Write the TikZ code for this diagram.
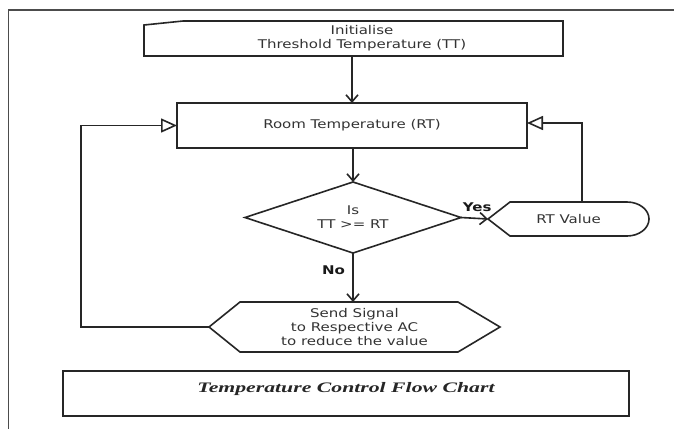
\documentclass[tikz,border=0pt]{standalone}
\usepackage{fontspec}
\newfontfamily\wsans[FakeStretch=1.25]{DejaVu Sans}
\newfontfamily\wserif[FakeStretch=1.5]{Liberation Serif}
\usetikzlibrary{arrows.meta,shapes.geometric}
\begin{document}
\begin{tikzpicture}[x=1pt,y=-1pt,
  every node/.style={inner sep=0pt, outer sep=0pt},
  lbl/.style={font=\wsans\fontsize{12}{14}\selectfont, text=black!80, align=center},
  blbl/.style={font=\wsans\bfseries\fontsize{12}{14}\selectfont, text=black!90},
  shp/.style={draw=black!85, line width=1.6pt},
  flow/.style={draw=black!85, line width=1.6pt, -{Straight Barb[length=7pt,width=12pt]}},
  back/.style={draw=black!85, line width=1.6pt, -{Triangle[open,length=16pt,width=14pt,fill=white]}}]
\useasboundingbox[fill=white] (0,0) rectangle (674,429);
% frame
\draw[black!70, line width=1.2pt] (674,10) -- (8.5,10) -- (8.5,429);
% initialise (manual input)
\node[minimum width=419pt, minimum height=35pt] (init) at (353.5,38.5) {};
\draw[shp] (144,25) -- (183,21) -- (563,21) -- (563,56) -- (144,56) -- cycle;
\node[lbl] (initt) at (362,38) {Initialise\\Threshold Temperature (TT)};
% room temperature
\node[shp, lbl, minimum width=350pt, minimum height=45pt] (room) at (352,125.5) {Room Temperature (RT)};
% decision
\node[diamond, aspect=3, shp, lbl, minimum width=216pt, minimum height=71pt] (dec) at (353,217.5) {Is\\TT >= RT};
% RT value (display)
\node[lbl, minimum width=161pt, minimum height=34pt] (rtv) at (568.5,219) {RT Value};
\draw[shp] (488,219) -- (510,202) -- (627,202) arc[start angle=90,end angle=-90,x radius=22pt,y radius=17pt] -- (510,236) -- cycle;
% send signal (hexagon)
\node[lbl, minimum width=291pt, minimum height=50pt] (send) at (354.5,327) {Send Signal\\to Respective AC\\to reduce the value};
\draw[shp] (209,327) -- (240,302) -- (458,302) -- (500,327) -- (458,352) -- (240,352) -- cycle;
% caption
\node[shp, minimum width=566pt, minimum height=45pt] (capbox) at (346,393.5) {};
\node[font=\wserif\bfseries\itshape\fontsize{14.5}{17}\selectfont, text=black!85] (captxt) at (346,389) {Temperature Control Flow Chart};
% connectors
\draw[flow] (init.south -| room.north) -- (room.north);
\draw[flow] (room.south -| dec.north) -- (dec.north);
\draw[flow] (dec.east) -- (rtv.west) node[blbl, pos=0.6, above=7pt] (yes) {Yes};
\draw[flow] (dec.south) -- (send.north -| dec.south) node[blbl, pos=0.35, left=8pt] (no) {No};
\coordinate (rup) at (582,202);
\draw[back] (rup) |- ([yshift=2.5pt]room.east);
\coordinate (lcorner) at (81,327);
\draw[back] (send.west) -- (lcorner) |- (room.west);
\end{tikzpicture}
\end{document}
